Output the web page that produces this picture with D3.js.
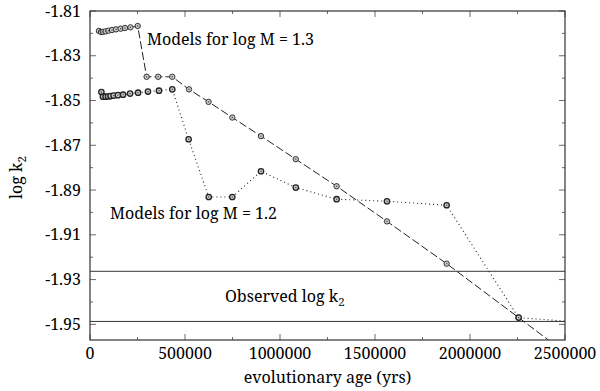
<!DOCTYPE html>
<html>
<head>
<meta charset="utf-8">
<script src="https://cdn.jsdelivr.net/npm/d3@7"></script>
<style>
  body { margin: 0; background: #fff; }
</style>
</head>
<body>
<div id="root"></div>
<script>
// Chart data
const ageM13 = [47000, 58000, 68000, 82000, 97000, 116000, 137000, 161000, 184000, 213000, 251000,
  298000, 359000, 433000, 521000, 624000, 749000, 900000, 1083000, 1298000, 1563000, 1877000, 2256000, 2500000];
const k2M13 = [-1.8189, -1.8194, -1.8193, -1.8191, -1.8188, -1.8185, -1.8182, -1.8179, -1.8176, -1.8173, -1.8167,
  -1.8394, -1.8394, -1.8394, -1.8450, -1.8506, -1.8576, -1.8659, -1.8762, -1.8883, -1.9040, -1.9229, -1.9470, -1.9626];

const ageM12 = [60000, 68000, 82000, 95000, 108000, 124000, 147000, 174000, 211000, 253000, 305000, 363000, 433000,
  519000, 625000, 749000, 900000, 1083000, 1298000, 1563000, 1877000, 2256000, 2600000];
const k2M12 = [-1.8462, -1.8483, -1.8483, -1.8482, -1.8480, -1.8478, -1.8476, -1.8474, -1.8469, -1.8465, -1.8460, -1.8456, -1.8450,
  -1.8673, -1.8931, -1.8931, -1.8816, -1.8889, -1.8941, -1.8950, -1.8968, -1.9470, -1.9492];

const observedK2 = [-1.9263, -1.9487];

const xTicks = [0, 500000, 1000000, 1500000, 2000000, 2500000];
const yTicks = [-1.81, -1.83, -1.85, -1.87, -1.89, -1.91, -1.93, -1.95];

// Size of the chart
const width = 600;
const height = 391;
const margin = { top: 11, right: 35, bottom: 51, left: 90 };
const x0 = margin.left, x1 = width - margin.right;
const y0 = margin.top, y1 = height - margin.bottom;
const font = "'Noto Serif', Tinos, 'Nimbus Roman', FreeSerif, Times, 'Liberation Serif', 'DejaVu Serif', serif";
const fontSize = "16px";
const subSize = "11.5px";

const svg = d3.select("#root").append("svg")
  .attr("width", width)
  .attr("height", height)
  .style("font-family", font);

// Scales
const xScale = d3.scaleLinear().domain([0, 2500000]).range([x0, x1]);
const yScale = d3.scaleLinear().domain([-1.957, -1.81]).range([y1, y0]);

// Clip path for the plot area
svg.append("clipPath").attr("id", "plot")
  .append("rect")
  .attr("x", x0).attr("y", y0)
  .attr("width", x1 - x0).attr("height", y1 - y0);

// Axes with ticks pointing inward on all four sides
const xMinor = d3.range(0, 2500001, 250000);
const yMinor = d3.range(-1.95, -1.8099, 0.01);

function drawXTicks(y, dir) {
  svg.append("g").selectAll("line").data(xMinor).enter().append("line")
    .attr("x1", d => xScale(d)).attr("x2", d => xScale(d))
    .attr("y1", y)
    .attr("y2", d => y + dir * (xTicks.includes(d) ? 6 : 3))
    .attr("stroke", "#444").attr("stroke-width", 0.8);
}
function drawYTicks(x, dir) {
  svg.append("g").selectAll("line").data(yMinor).enter().append("line")
    .attr("y1", d => yScale(d)).attr("y2", d => yScale(d))
    .attr("x1", x)
    .attr("x2", (d, i) => x + dir * (i % 2 === 0 ? 6 : 3))
    .attr("stroke", "#444").attr("stroke-width", 0.8);
}
drawXTicks(y1, -1);
drawXTicks(y0, 1);
drawYTicks(x0, 1);
drawYTicks(x1, -1);

// Tick labels
svg.append("g").selectAll("text").data(xTicks).enter().append("text")
  .attr("x", d => xScale(d))
  .attr("y", y1 + 19)
  .attr("text-anchor", "middle")
  .style("font-size", fontSize)
  .text(d => d);

svg.append("g").selectAll("text").data(yTicks).enter().append("text")
  .attr("x", x0 - 9)
  .attr("y", d => yScale(d))
  .attr("dy", "0.35em")
  .attr("text-anchor", "end")
  .style("font-size", fontSize)
  .text(d => d.toFixed(2));

// Axis titles
svg.append("text")
  .attr("x", (x0 + x1) / 2)
  .attr("y", 383)
  .attr("text-anchor", "middle")
  .style("font-size", fontSize)
  .text("evolutionary age (yrs)");

const yTitle = svg.append("text")
  .attr("transform", "translate(22," + ((y0 + y1) / 2 + 2) + ") rotate(-90)")
  .attr("text-anchor", "middle")
  .style("font-size", fontSize);
yTitle.append("tspan").text("log k");
yTitle.append("tspan").attr("dy", 4).style("font-size", subSize).text("2");

// Observed band
svg.append("g").selectAll("line").data(observedK2).enter().append("line")
  .attr("x1", x0).attr("x2", x1)
  .attr("y1", d => yScale(d)).attr("y2", d => yScale(d))
  .attr("stroke", "#333").attr("stroke-width", 1);

// Lines
const line = d3.line()
  .x(d => xScale(d[0]))
  .y(d => yScale(d[1]));

const m13 = d3.zip(ageM13, k2M13);
const m12 = d3.zip(ageM12, k2M12);

const plot = svg.append("g").attr("clip-path", "url(#plot)");

plot.append("path")
  .datum(m12)
  .attr("fill", "none")
  .attr("stroke", "#222")
  .attr("stroke-width", 1.1)
  .attr("stroke-dasharray", "1,3")
  .attr("d", line);

plot.append("path")
  .datum(m13)
  .attr("fill", "none")
  .attr("stroke", "#222")
  .attr("stroke-width", 1)
  .attr("stroke-dasharray", "8,3")
  .attr("d", line);

function createDots(data, strokeWidth) {
  const g = plot.append("g");
  g.selectAll("circle").data(data).enter().append("circle")
    .attr("cx", d => xScale(d[0]))
    .attr("cy", d => yScale(d[1]))
    .attr("r", 2.7)
    .attr("fill", "#c8c8c8")
    .attr("stroke", "#222")
    .attr("stroke-width", strokeWidth);
  g.selectAll("rect").data(data).enter().append("rect")
    .attr("x", d => xScale(d[0]) - 0.6)
    .attr("y", d => yScale(d[1]) - 0.6)
    .attr("width", 1.2).attr("height", 1.2)
    .attr("fill", "#444");
}
createDots(m13, 0.9);
createDots(m12, 1.3);

// Frame
svg.append("rect")
  .attr("x", x0).attr("y", y0)
  .attr("width", x1 - x0).attr("height", y1 - y0)
  .attr("fill", "none")
  .attr("stroke", "#333")
  .attr("stroke-width", 1.2);

// Annotations
svg.append("text")
  .attr("x", 147).attr("y", 45)
  .style("font-size", fontSize)
  .text("Models for log M = 1.3");

svg.append("text")
  .attr("x", 110).attr("y", 219)
  .style("font-size", fontSize)
  .text("Models for log M = 1.2");

const obs = svg.append("text")
  .attr("x", 225).attr("y", 302)
  .style("font-size", fontSize);
obs.append("tspan").text("Observed log k");
obs.append("tspan").attr("dy", 4).style("font-size", subSize).text("2");
</script>
</body>
</html>
